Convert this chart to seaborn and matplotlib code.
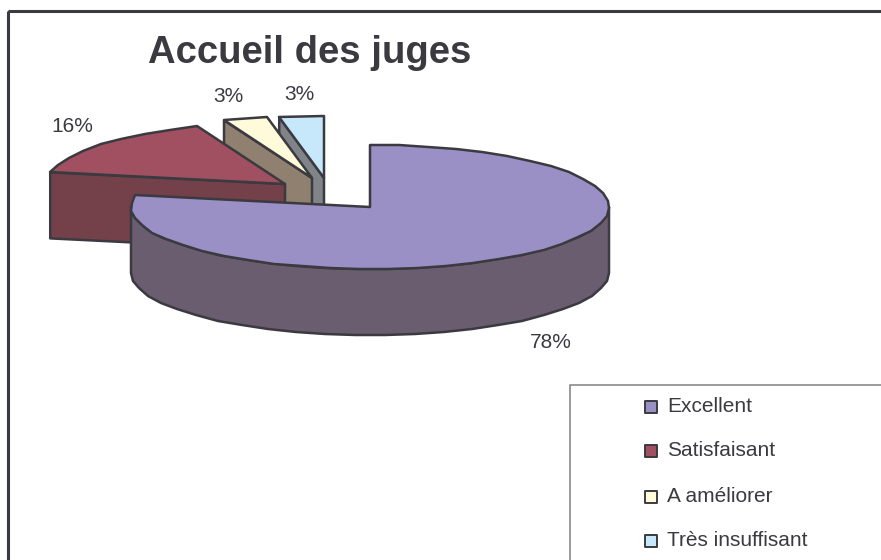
import numpy as np
import pandas as pd
import matplotlib
matplotlib.use('Agg')
import matplotlib.pyplot as plt
from matplotlib.patches import Rectangle
import seaborn as sns

# data
categories = ['Excellent', 'Satisfaisant', 'A améliorer', 'Très insuffisant']
values = [78, 16, 3, 3]
labels = ['78%', '16%', '3%', '3%']

sns.set_theme(style='white')
plt.rcParams['font.family'] = ['Liberation Sans', 'DejaVu Sans']

top_colors = sns.color_palette(['#9A90C6', '#A05060', '#FFFADA', '#C6E8FA'])
side_colors = sns.color_palette(['#6B5D70', '#74404A', '#90806F', '#808488'])
edge = '#3A3A40'
txt = '#3A3A40'

# pie geometry in image pixels
rx, ry, depth = 239, 62, 66
apex = [(370, 207), (285, 184), (312, 178), (324, 178)]
label_pos = [(551, 343), (72, 126), (228, 96), (299, 94)]
legend_y = [407, 451, 497, 541]

share = pd.Series(values, index=categories) / sum(values)
stop = share.cumsum() * 2 * np.pi
start = stop - share * 2 * np.pi


def rim(cx, cy, a0, a1, dy=0):
    # coarse steps, the original rim is a bit wobbly too
    n = max(int(np.degrees(a1 - a0) / 7), 1)
    t = np.linspace(a0, a1, n + 1)
    return np.round(cx + rx * np.sin(t)), np.round(cy - ry * np.cos(t) + dy)


fig = plt.figure(figsize=(8.81, 5.6), dpi=100)
ax = fig.add_axes([0, 0, 1, 1])
ax.set_xlim(0, 881)
ax.set_ylim(560, 0)
ax.axis('off')

# chart frame, runs off the right and bottom of the picture
ax.add_patch(Rectangle((8, 11), 900, 600, fill=False, ec=edge, lw=2.2))

# back to front
for i in [3, 2, 1, 0]:
    cx, cy = apex[i]
    a0, a1 = start.iloc[i], stop.iloc[i]

    # cut face on the start side of the slice
    if i > 0:
        ex = cx + rx * np.sin(a0)
        ey = cy - ry * np.cos(a0)
        ax.fill([cx, ex, ex, cx], [cy, ey, ey + depth, cy + depth],
                fc=side_colors[i], ec=edge, lw=1.8, joinstyle='round')
    else:
        # front wall of the big slice
        xs, ys = rim(cx, cy, np.pi / 2, 3 * np.pi / 2)
        xb, yb = rim(cx, cy, np.pi / 2, 3 * np.pi / 2, depth)
        ax.fill(np.r_[xs, xb[::-1]], np.r_[ys, yb[::-1]],
                fc=side_colors[i], ec=edge, lw=1.8, joinstyle='round')

    xs, ys = rim(cx, cy, a0, a1)
    ax.fill(np.r_[cx, xs], np.r_[cy, ys], fc=top_colors[i], ec=edge, lw=1.8,
            joinstyle='round')

for lab, (x, y) in zip(labels, label_pos):
    ax.text(x, y, lab, ha='center', va='center', fontsize=15, color=txt)

ax.text(310, 53, 'Accueil des juges', ha='center', va='center', fontsize=27.5,
        fontweight='bold', color=txt)

# legend box, also cut by the picture edge
ax.add_patch(Rectangle((569.5, 385), 400, 300, fc='white', ec='#808080', lw=1.1))
for name, col, y in zip(categories, top_colors, legend_y):
    ax.scatter([651], [y], marker='s', s=72, color=[col], edgecolors=edge,
               linewidths=1.4, zorder=3)
    ax.text(667, y - 1, name, ha='left', va='center', fontsize=15, color=txt)

fig.savefig('out.png', dpi=100, facecolor='white')
